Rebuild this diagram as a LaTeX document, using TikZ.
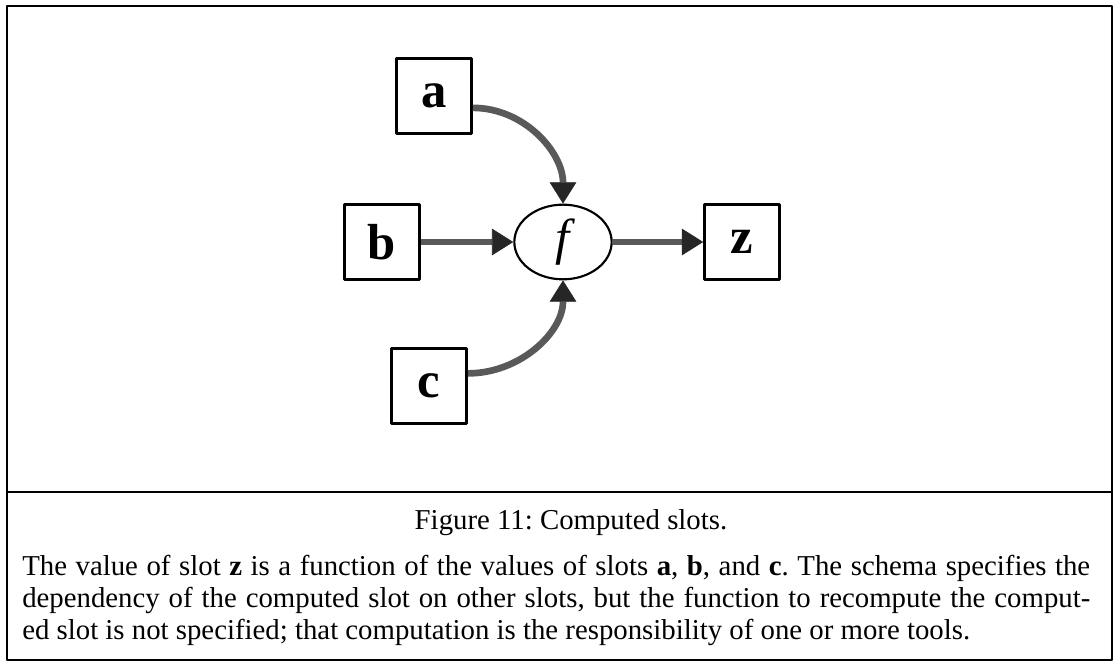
\documentclass[tikz,border=0pt]{standalone}
\usepackage{fontspec}
\setmainfont{Liberation Serif}
\usetikzlibrary{arrows.meta,shapes.geometric}
\frenchspacing
\tikzset{
  slot/.style={draw,line width=2.2pt,minimum size=56pt,inner sep=0pt,
    font=\fontsize{38}{38}\selectfont\bfseries},
  func/.style={draw,ellipse,line width=1.6pt,minimum width=73pt,minimum height=56pt,
    inner sep=0pt,font=\fontsize{38}{38}\selectfont\itshape},
  flow/.style={line width=5pt,black!65,
    -{Triangle[length=16pt,width=20pt,line width=0.5pt,color=black!85]}},
  captext/.style={font=\fontsize{21.6}{24}\selectfont,inner sep=0pt}
}
\begin{document}
\begin{tikzpicture}[x=0.75pt,y=0.75pt,line join=round]
  \useasboundingbox (0,0) rectangle (1114,664);
  % frame and divider
  \draw[line width=2.2pt] (7,4) rectangle (1112,658);
  \draw[line width=2.2pt] (7,172) -- (1112,172);
  % slots and the function
  \node[slot] (a) at (434,568) {a};
  \node[slot] (b) at (382,422) {b};
  \node[slot] (c) at (429,278) {c};
  \node[slot] (z) at (742,422) {z};
  \node[func] (f) at (563,422) {f};
  % dependencies
  \draw[flow] (a.-17) to[out=0,in=90] (f.north);
  \draw[flow] (b) -- (f);
  \draw[flow] (c.18) to[out=0,in=-90] (f.south);
  \draw[flow] (f) -- (z);
  % caption
  \node[captext,anchor=base] (title) at (571,134) {Figure 11: Computed slots.};
  \node[captext,anchor=base west] (line1) at (22,88) {\makebox[801pt][s]{The value of slot \textbf{z} is a function of the values of slots \textbf{a}, \textbf{b}, and \textbf{c}. The schema specifies the}};
  \node[captext,anchor=base west] (line2) at (22,56) {\makebox[801pt][s]{dependency of the computed slot on other slots, but the function to recompute the comput-}};
  \node[captext,anchor=base west] (line3) at (22,24) {ed slot is not specified; that computation is the responsibility of one or more tools.};
\end{tikzpicture}
\end{document}
